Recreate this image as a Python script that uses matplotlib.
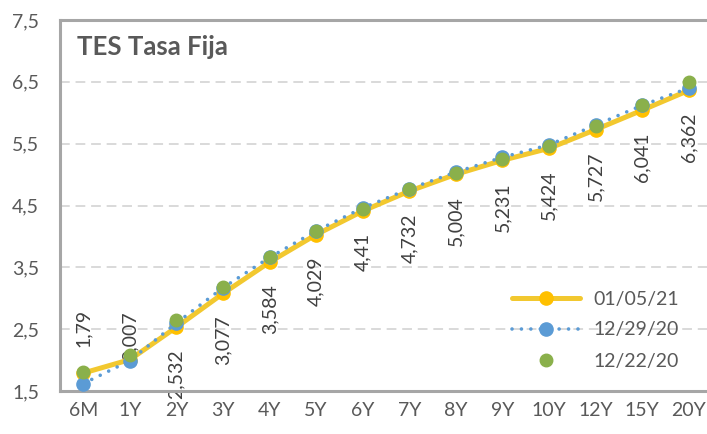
import matplotlib
matplotlib.use("Agg")
import matplotlib.pyplot as plt

categories = ["6M", "1Y", "2Y", "3Y", "4Y", "5Y", "6Y", "7Y", "8Y", "9Y", "10Y", "12Y", "15Y", "20Y"]
s_0105 = [1.79, 2.007, 2.532, 3.077, 3.584, 4.029, 4.41, 4.732, 5.004, 5.231, 5.424, 5.727, 6.041, 6.362]
s_1229 = [1.62, 1.99, 2.60, 3.17, 3.66, 4.09, 4.46, 4.77, 5.04, 5.28, 5.48, 5.80, 6.12, 6.40]
s_1222 = [1.80, 2.08, 2.65, 3.18, 3.66, 4.08, 4.45, 4.76, 5.02, 5.26, 5.46, 5.79, 6.13, 6.50]
label_text = ["1,79", "2,007", "2,532", "3,077", "3,584", "4,029", "4,41", "4,732", "5,004", "5,231", "5,424", "5,727", "6,041", "6,362"]
yticks = [1.5, 2.5, 3.5, 4.5, 5.5, 6.5, 7.5]
ytick_labels = ["1,5", "2,5", "3,5", "4,5", "5,5", "6,5", "7,5"]
title = "TES Tasa Fija"
legend_labels = ["01/05/21", "12/29/20", "12/22/20"]

# label placement (style): vertical offset in points from the point
label_offsets = [18.5, -1] + [-16] * 12

plt.rcParams['font.family'] = ['Lato', 'DejaVu Sans']
TXT = "#595959"
FS = 14

fig = plt.figure(figsize=(7.07, 4.34), dpi=100)
ax = fig.add_axes([60/707, 43/434, 652/707, 371/434])
x = list(range(len(categories)))

ax.plot(x, s_0105, color="#F2C82F", lw=3.6, marker="o", ms=9.5,
        mfc="#FFC000", mec="#FFC000", zorder=3, label=legend_labels[0],
        solid_capstyle="round")
ax.plot(x, s_1229, color="#5B9BD5", lw=2.6, linestyle=(0, (0.01, 2.6)),
        dash_capstyle="round", marker="o", ms=9.5, mfc="#5B9BD5", mec="#5B9BD5",
        zorder=4, label=legend_labels[1])
ax.plot(x, s_1222, linestyle="none", marker="o", ms=9, mfc="#8AB04B",
        mec="#8AB04B", zorder=5, label=legend_labels[2])

for xi, yi, t, off in zip(x, s_0105, label_text, label_offsets):
    ax.annotate(t, (xi, yi), xytext=(0, off), textcoords="offset points",
                rotation=90, ha="center", va="bottom" if off > -5 else "top",
                fontsize=FS, color="#404040", zorder=2)

ax.set_xlim(-0.5, len(categories) - 0.5)
ax.set_ylim(1.5, 7.5)
ax.set_yticks(yticks)
ax.set_yticklabels(ytick_labels)
ax.set_xticks(x)
ax.set_xticklabels(categories)
ax.tick_params(axis="both", length=0, labelsize=FS, labelcolor=TXT)
ax.tick_params(axis="y", pad=15)
ax.tick_params(axis="x", pad=8)
for t in yticks[1:-1]:
    ax.axhline(t, color="#D9D9D9", lw=1.4, dashes=(5, 3), zorder=1)

for side in ["left", "top", "bottom"]:
    ax.spines[side].set_color("#A6A6A6")
    ax.spines[side].set_linewidth(2.2)
ax.spines["right"].set_visible(False)

fig.text(77/707, 1 - 47/434, title, fontsize=18.5, fontweight="bold", color=TXT,
         ha="left", va="center")

leg = ax.legend(loc="center left", bbox_to_anchor=(512/707, 1 - 330/434),
                bbox_transform=fig.transFigure, frameon=False, fontsize=FS,
                handlelength=3.5, handletextpad=0.67, labelspacing=0.72,
                borderpad=0, borderaxespad=0, numpoints=1)
for t in leg.get_texts():
    t.set_color(TXT)

fig.savefig("out.png", dpi=100)
